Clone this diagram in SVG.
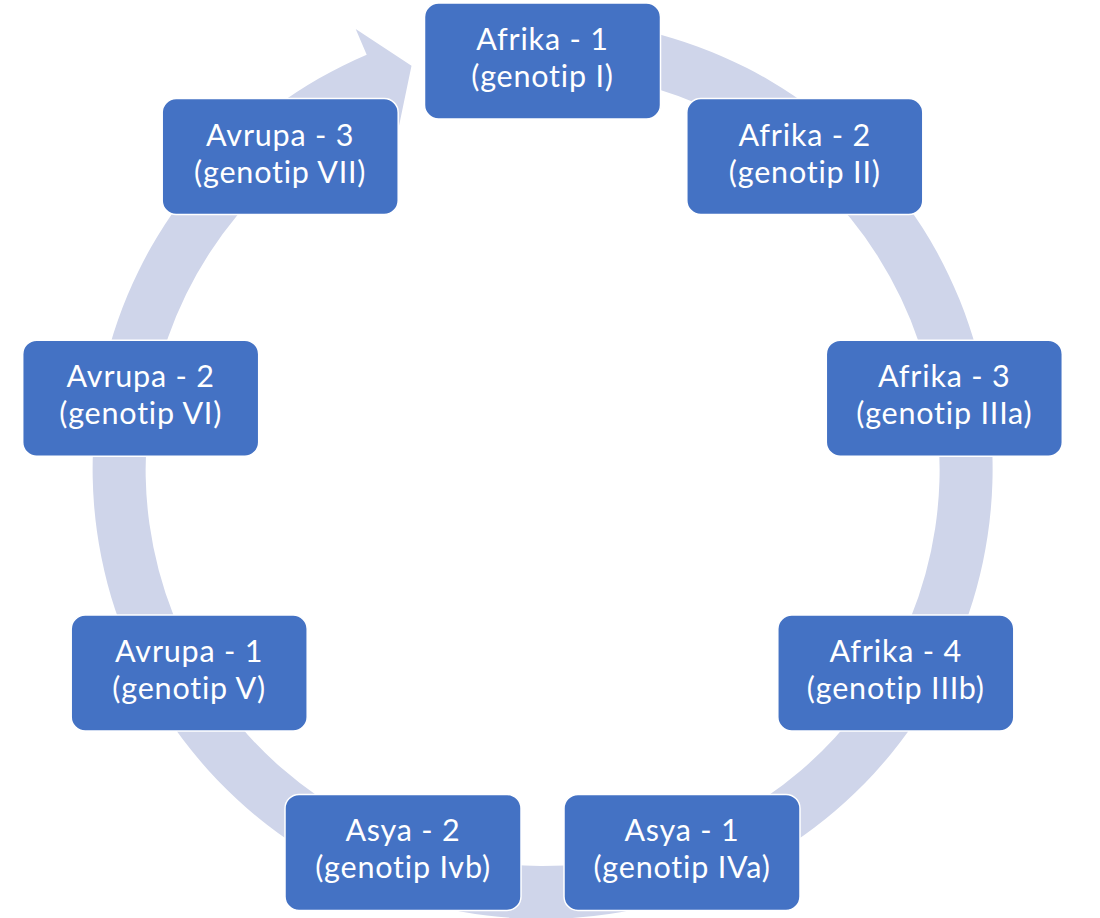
<svg xmlns="http://www.w3.org/2000/svg" width="1100" height="918" viewBox="0 0 1100 918">
<style>
.box{fill:#4472C4;stroke:#FFFFFF;stroke-width:1.5}
.lbl{fill:#FFFFFF;font-family:Lato,"Open Sans","Liberation Sans",sans-serif;font-size:30.5px;letter-spacing:0.8px;text-anchor:middle}
.ring{fill:#CFD5EA}
</style>
<rect width="1100" height="918" fill="#FFFFFF"/>
<g id="connectors">
<path class="ring" d="M620.6,25.8 A450,450 0 1 1 366.7,54.8 L355.7,29.0 L411.5,65.7 L398.3,129.3 L387.4,103.6 A397,397 0 1 0 611.4,78.0 Z"/>
</g>
<g id="n1"><rect class="box" x="424.5" y="3" width="236" height="116" rx="14"/><text class="lbl"><tspan x="542.5" y="50">Afrika - 1</tspan><tspan x="542.5" y="87">(genotip I)</tspan></text></g>
<g id="n2"><rect class="box" x="686.8" y="98.5" width="236" height="116" rx="14"/><text class="lbl"><tspan x="804.8" y="145.5">Afrika - 2</tspan><tspan x="804.8" y="182.5">(genotip II)</tspan></text></g>
<g id="n3"><rect class="box" x="826.3" y="340.2" width="236" height="116" rx="14"/><text class="lbl"><tspan x="944.3" y="387.2">Afrika - 3</tspan><tspan x="944.3" y="424.2">(genotip IIIa)</tspan></text></g>
<g id="n4"><rect class="box" x="777.8" y="615" width="236" height="116" rx="14"/><text class="lbl"><tspan x="895.8" y="662">Afrika - 4</tspan><tspan x="895.8" y="699">(genotip IIIb)</tspan></text></g>
<g id="n5"><rect class="box" x="564" y="794.4" width="236" height="116" rx="14"/><text class="lbl"><tspan x="682" y="841.4">Asya - 1</tspan><tspan x="682" y="878.4">(genotip IVa)</tspan></text></g>
<g id="n6"><rect class="box" x="285" y="794.4" width="236" height="116" rx="14"/><text class="lbl"><tspan x="403" y="841.4">Asya - 2</tspan><tspan x="403" y="878.4">(genotip Ivb)</tspan></text></g>
<g id="n7"><rect class="box" x="71.2" y="615" width="236" height="116" rx="14"/><text class="lbl"><tspan x="189.2" y="662">Avrupa - 1</tspan><tspan x="189.2" y="699">(genotip V)</tspan></text></g>
<g id="n8"><rect class="box" x="22.7" y="340.2" width="236" height="116" rx="14"/><text class="lbl"><tspan x="140.7" y="387.2">Avrupa - 2</tspan><tspan x="140.7" y="424.2">(genotip VI)</tspan></text></g>
<g id="n9"><rect class="box" x="162.2" y="98.5" width="236" height="116" rx="14"/><text class="lbl"><tspan x="280.2" y="145.5">Avrupa - 3</tspan><tspan x="280.2" y="182.5">(genotip VII)</tspan></text></g>
</svg>
